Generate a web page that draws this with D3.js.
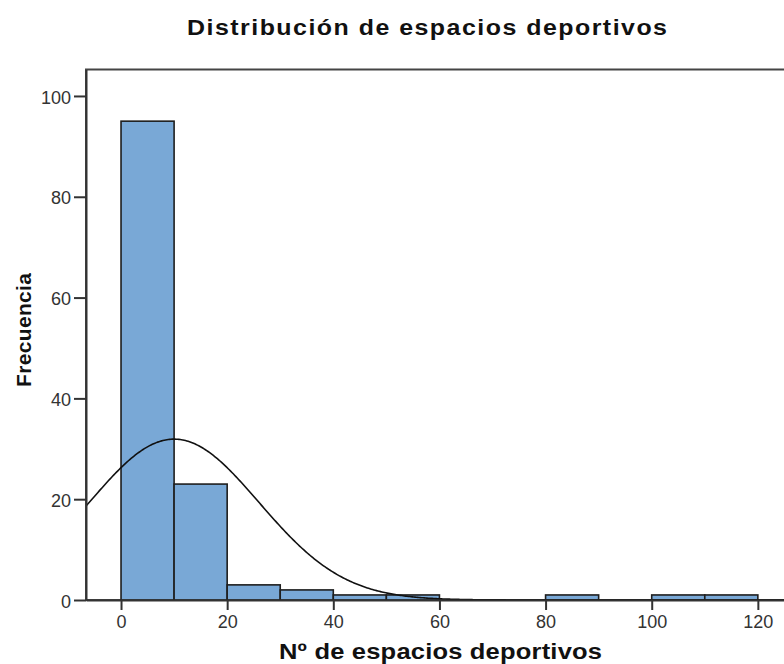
<!DOCTYPE html>
<html>
<head>
<meta charset="utf-8">
<script src="https://cdn.jsdelivr.net/npm/d3@7"></script>
<style>
  html, body { margin: 0; padding: 0; background: #fff; }
  svg { display: block; }
  text { font-family: "Liberation Sans", Arial, sans-serif; }
</style>
</head>
<body>
<svg id="chart" width="784" height="664"></svg>
<script>
// ---- data ----
const binStarts = [0, 10, 20, 30, 40, 50, 60, 70, 80, 90, 100, 110];
const binWidth = 10;
const frequencies = [95, 23, 3, 2, 1, 1, 0, 0, 1, 0, 1, 1];
const xTicks = [0, 20, 40, 60, 80, 100, 120];
const yTicks = [0, 20, 40, 60, 80, 100];
const curveMean = 10.0;
const curveSd = 16.0;
const titleText = "Distribución de espacios deportivos";
const xLabel = "Nº de espacios deportivos";
const yLabel = "Frecuencia";

// ---- layout ----
const svg = d3.select("#chart");
const pLeft = 86, pRight = 795, pTop = 69.5, pBottom = 600;
const x = d3.scaleLinear().domain([-6.6, 127]).range([pLeft, pRight]);
const y = d3.scaleLinear().domain([0, 105.25]).range([pBottom, pTop]);

const total = d3.sum(frequencies);

svg.append("defs").append("clipPath").attr("id", "plotclip")
  .append("rect").attr("x", pLeft).attr("y", pTop).attr("width", pRight - pLeft).attr("height", pBottom - pTop);

// frame
svg.append("rect")
  .attr("x", pLeft).attr("y", pTop).attr("width", pRight - pLeft).attr("height", pBottom - pTop)
  .attr("fill", "none").attr("stroke", "#444").attr("stroke-width", 2);

// bars
const bars = binStarts.map((s, i) => ({ s, e: s + binWidth, f: frequencies[i] })).filter(d => d.f > 0);
svg.append("g").selectAll("rect").data(bars).join("rect")
  .attr("x", d => x(d.s)).attr("width", d => x(d.e) - x(d.s))
  .attr("y", d => y(d.f)).attr("height", d => y(0) - y(d.f))
  .attr("fill", "#79a8d6").attr("stroke", "#1e1e1e").attr("stroke-width", 1.6);

// normal curve
const pts = d3.range(-6.6, 127.01, 0.25).map(v => [v,
  total * binWidth / (curveSd * Math.sqrt(2 * Math.PI)) * Math.exp(-0.5 * Math.pow((v - curveMean) / curveSd, 2))]);
svg.append("path").datum(pts)
  .attr("clip-path", "url(#plotclip)")
  .attr("d", d3.line().x(d => x(d[0])).y(d => y(d[1])))
  .attr("fill", "none").attr("stroke", "#111").attr("stroke-width", 1.6);

// axes
const xAxis = svg.append("g").attr("transform", `translate(0,${pBottom})`)
  .call(d3.axisBottom(x).tickValues(xTicks).tickSize(10).tickSizeOuter(0).tickPadding(5));
const yAxis = svg.append("g").attr("transform", `translate(${pLeft},0)`)
  .call(d3.axisLeft(y).tickValues(yTicks).tickSize(12).tickSizeOuter(0).tickPadding(3));
[xAxis, yAxis].forEach(a => {
  a.select(".domain").attr("stroke", "#333").attr("stroke-width", 2);
  a.selectAll(".tick line").attr("stroke", "#333").attr("stroke-width", 2);
  a.selectAll(".tick text").attr("fill", "#333").attr("font-size", 18)
    .attr("font-family", "'Liberation Sans', Arial, sans-serif");
});
yAxis.selectAll(".tick text").attr("dy", "0.4em");

// titles (glyphs stretched horizontally like the reference rendering)
const sx = 1.16;
svg.append("text").attr("transform", `translate(427,35) scale(${sx},1)`).attr("text-anchor", "middle")
  .attr("font-size", 21.5).attr("font-weight", "bold").attr("fill", "#111")
  .attr("textLength", 480 / sx).attr("lengthAdjust", "spacing").text(titleText);
svg.append("text").attr("transform", `translate(440.5,659) scale(${sx},1)`).attr("text-anchor", "middle")
  .attr("font-size", 22).attr("font-weight", "bold").attr("fill", "#111")
  .attr("textLength", 323 / sx).attr("lengthAdjust", "spacing").text(xLabel);
svg.append("text").attr("transform", "translate(31,330) rotate(-90)").attr("text-anchor", "middle")
  .attr("font-size", 21).attr("font-weight", "bold").attr("fill", "#111")
  .attr("textLength", 114).attr("lengthAdjust", "spacing").text(yLabel);
</script>
</body>
</html>
